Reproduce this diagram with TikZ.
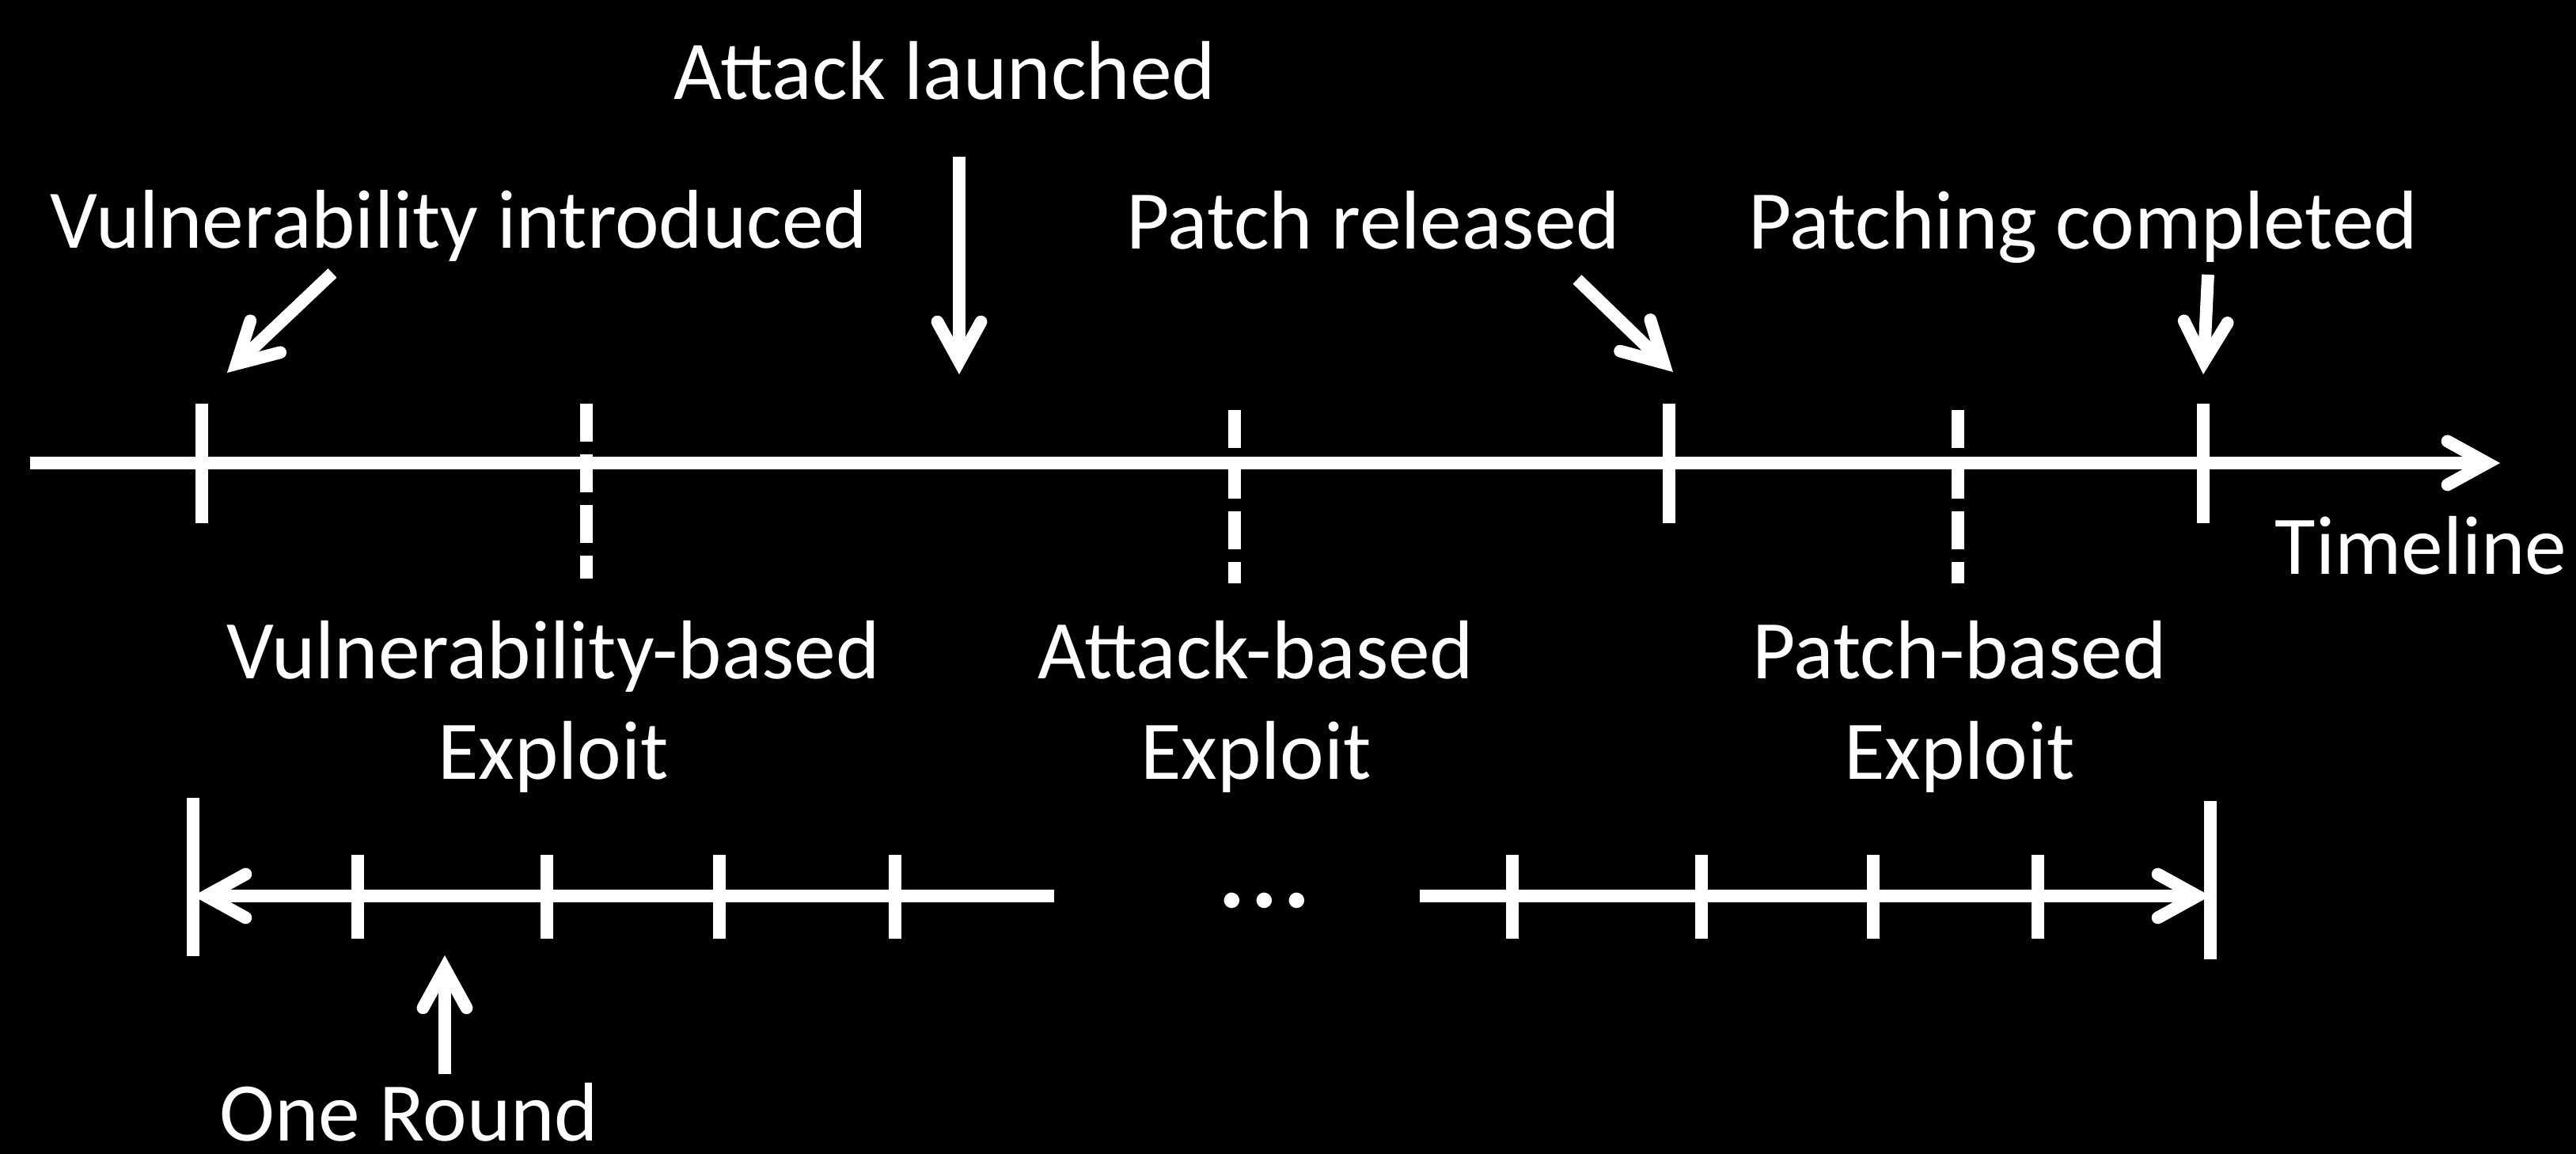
\documentclass[tikz,border=0pt]{standalone}
\usepackage{fontspec}
\setmainfont{Carlito}
\usepackage{tikz}
\usetikzlibrary{arrows.meta}
\tikzstyle{lbl} = [text=white, font=\fontsize{30}{36.4}\selectfont, inner sep=0pt, align=center]
\tikzstyle{axis} = [draw=white, line width=4.5pt]
\tikzstyle{tickline} = [draw=white, line width=4.5pt]
\tikzstyle{dashtick} = [draw=white, line width=4.5pt, dash pattern=on 0.48cm off 0.16cm]
\tikzstyle{pointer} = [draw=white, line width=4.5pt, ->]

\begin{document}
\begin{tikzpicture}[>={Straight Barb[length=0.5cm,width=0.55cm,line cap=round]}]

\useasboundingbox (0,0) rectangle (32.55,14.58);
\fill[black] (0,0) rectangle (32.55,14.58);

% labels
\node[lbl, anchor=base] (launch) at (11.94,13.32) {Attack launched};
\node[lbl, anchor=base] (intro) at (5.80,11.44) {Vulnerability introduced};
\node[lbl, anchor=base] (release) at (17.35,11.43) {Patch released};
\node[lbl, anchor=base] (complete) at (26.32,11.43) {Patching completed};
\node[lbl, anchor=base] (timelbl) at (30.59,7.32) {Timeline};
\node[lbl, anchor=base] (vbased) at (6.99,4.73) {Vulnerability-based\\Exploit};
\node[lbl, anchor=base] (abased) at (15.87,4.73) {Attack-based\\Exploit};
\node[lbl, anchor=base] (pbased) at (24.76,4.73) {Patch-based\\Exploit};
\node[lbl, anchor=base, font=\fontsize{46}{50}\selectfont] (dots) at (15.98,3.11) {...};
\node[lbl, anchor=base, text depth=0pt] (round) at (5.17,0.16) {One Round};

% timeline
\coordinate (tstart) at (0.38,8.73);
\coordinate (tend) at (31.59,8.73);
\draw[axis,->] (tstart) -- (tend);

\foreach \x in {2.55,21.09,27.84}
  \draw[tickline] (\x,9.48) -- (\x,7.97);
\draw[dashtick] (7.41,9.48) -- (7.41,7.27);
\draw[dashtick] (15.60,9.40) -- (15.60,7.21);
\draw[dashtick] (24.74,9.40) -- (24.74,7.21);

% events
\coordinate (introtail) at (4.20,11.13);
\coordinate (introtip) at (2.87,9.87);
\coordinate (launchtail) at (12.12,12.60);
\coordinate (launchtip) at (12.12,9.85);
\coordinate (releasetail) at (19.93,11.05);
\coordinate (releasetip) at (21.14,9.88);
\coordinate (completetail) at (27.90,11.11);
\coordinate (completetip) at (27.84,9.85);

\draw[pointer] (introtail) -- (introtip);
\draw[pointer] (launchtail) -- (launchtip);
\draw[pointer] (releasetail) -- (releasetip);
\draw[pointer] (completetail) -- (completetip);

% rounds
\coordinate (lbar) at (2.44,3.26);
\coordinate (lend) at (13.32,3.26);
\coordinate (rstart) at (17.94,3.26);
\coordinate (rbar) at (27.93,3.26);

\draw[axis,->] (lend) -- (lbar);
\draw[axis,->] (rstart) -- (rbar);
\draw[tickline] (2.44,4.50) -- (2.44,2.50);
\draw[tickline] (27.93,4.46) -- (27.93,2.46);
\foreach \x in {4.52,6.91,9.09,11.31,19.11,21.50,23.67,25.75}
  \draw[tickline] (\x,3.78) -- (\x,2.72);

\coordinate (roundtail) at (5.62,1.01);
\coordinate (roundtip) at (5.62,2.51);
\draw[pointer] (roundtail) -- (roundtip);
\end{tikzpicture}
\end{document}
